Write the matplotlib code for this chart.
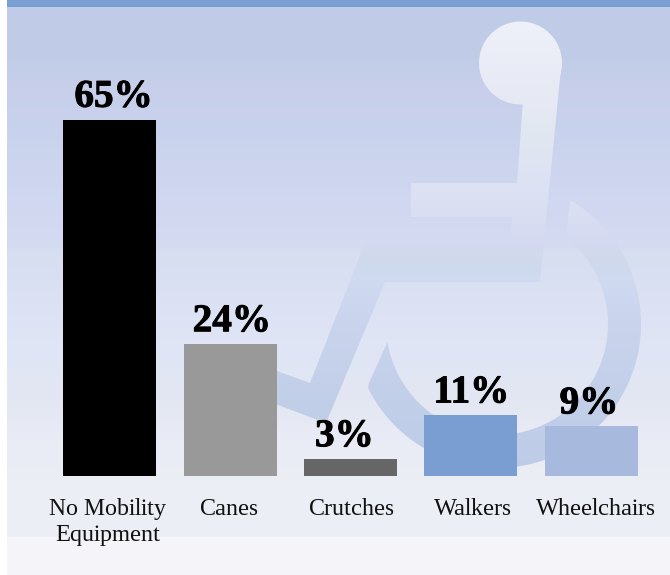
import numpy as np
import matplotlib
matplotlib.use('Agg')
import matplotlib.pyplot as plt
import matplotlib.patheffects as pe
from matplotlib.colors import LinearSegmentedColormap
from matplotlib.patches import PathPatch
from matplotlib.path import Path

plt.rcParams['text.hinting'] = 'no_autohint'
plt.rcParams['text.hinting_factor'] = 1

categories = ['No Mobility\nEquipment', 'Canes', 'Crutches', 'Walkers', 'Wheelchairs']
percent = [65, 24, 3, 11, 9]
bar_colors = ['#000000', '#999999', '#666666', '#7A9DD2', '#A8B9DE']

# small nudges in pixels so the text sits off the bar centres
value_shift = [5.0, 3.0, -5.0, 2.0, -1.0]
label_shift = [-2.5, -1.5, 0.5, 2.5, 4.5]

W, H = 670, 575
PANEL_LEFT = 7
HEADER = 7

bg_stops = [(7, '#BFCBE7'), (60, '#C1CDE8'), (85, '#C7CFEA'), (130, '#C9D2EC'),
            (190, '#CFD7F0'), (218, '#D3D8F1'), (240, '#D4DAF1'), (252, '#D6DEF0'),
            (270, '#D8DFF2'), (340, '#DFE5F5'), (400, '#E2E7F2'), (430, '#E8EAF5'),
            (480, '#ECEEF6'), (537, '#EDEEF7'), (538, '#F4F4F9'), (575, '#F4F4F9')]
icon_stops = [(18, '#EEF1F9'), (105, '#E6E9F4'), (130, '#E0E7F0'), (183, '#DDE2F4'),
              (217, '#D9DEF2'), (240, '#D4D9F0'), (262, '#D0DAEC'), (280, '#CFD9F0'),
              (330, '#C9D3EC'), (400, '#C2CFE9'), (480, '#BECBE7')]


def vertical_gradient(ax, stops, x0, x1):
    y0, y1 = stops[0][0], stops[-1][0]
    cmap = LinearSegmentedColormap.from_list(
        'grad', [((y - y0) / (y1 - y0), c) for y, c in stops], N=512)
    return ax.imshow(np.linspace(0, 1, 512)[:, None], cmap=cmap, aspect='auto',
                     extent=(x0, x1, y1, y0), interpolation='nearest', zorder=1)


def wheelchair_path():
    # head and torso
    head = Path.circle((520.5, 63), 41.5)
    body = [(561.5, 63), (540, 282), (385, 282), (326, 423), (230, 387), (230, 354),
            (310, 383), (365, 243), (510, 243), (512, 217), (411, 217), (411, 183),
            (517, 183), (523, 100), (561.5, 63)]
    # wheel arc, from the top tip round to the lower left
    cx, cy = 497, 324
    a0 = np.arctan2(200 - cy, 570 - cx)
    a1 = np.arctan2(383 - cy, 369 - cx)
    if a1 < a0:
        a1 += 2 * np.pi
    a2 = np.arctan2(342 - cy, 387 - cx)
    if a2 < a0:
        a2 += 2 * np.pi
    a3 = np.arctan2(238 - cy, 565 - cx)
    t_out = np.linspace(a0, a1 - 0.03, 120)
    t_in = np.linspace(a2, a3, 120)
    arc = list(zip(cx + 144 * np.cos(t_out), cy + 144 * np.sin(t_out)))
    arc.append((369, 383))
    arc += list(zip(cx + 111 * np.cos(t_in), cy + 111 * np.sin(t_in)))
    arc.append(arc[0])
    return Path.make_compound_path(head, Path(body, closed=True), Path(arc, closed=True))


fig = plt.figure(figsize=(W / 100, H / 100), dpi=100, facecolor='white')

bg = fig.add_axes([0, 0, 1, 1])
bg.set_xlim(0, W)
bg.set_ylim(H, 0)
bg.axis('off')
vertical_gradient(bg, bg_stops, PANEL_LEFT, W)
bg.fill_between([PANEL_LEFT, W], 0, HEADER, color='#7A9DD2', lw=0, zorder=2)

icon = vertical_gradient(bg, icon_stops, PANEL_LEFT, W)
icon.set_zorder(1.5)
clip = PathPatch(wheelchair_path(), transform=bg.transData, fc='none', ec='none')
bg.add_patch(clip)
icon.set_clip_path(clip)
bg.set_xlim(0, W)
bg.set_ylim(H, 0)

# bar axes: baseline near y=476 px, 65% reaches y=120 px, slots 120.3 px wide
base_px, top_px = 475.7, 119.8
ax = fig.add_axes([49.75 / W, (H - base_px) / H, 601.5 / W, (base_px - top_px) / H])
ax.patch.set_visible(False)
ax.axis('off')
ax.set_xlim(-0.5, 4.5)
ax.set_ylim(0, 65)

x = np.arange(len(categories))
ax.bar(x, percent, width=93 / 120.3, color=bar_colors, lw=0)

# the percentages are set heavier than the plain bold face
heavy = [pe.withStroke(linewidth=0.7, foreground='black')]
for i, v in enumerate(percent):
    ax.annotate(f'{v}%', (x[i], v), xytext=(value_shift[i] * 0.72, 9.4),
                textcoords='offset points', ha='center', va='baseline',
                family='Liberation Serif', weight='bold', fontsize=28.2, color='black',
                path_effects=heavy, annotation_clip=False)
    # each label line gets its own baseline so they all sit level
    for n, line in enumerate(categories[i].split('\n')):
        ax.annotate(line, (x[i], 0), xytext=(label_shift[i] * 0.72, -28 - 19 * n),
                    textcoords='offset points', ha='center', va='baseline',
                    family='Liberation Serif', fontsize=17.1, color='#111111',
                    annotation_clip=False)

fig.savefig('out.png', dpi=100, facecolor='white')
